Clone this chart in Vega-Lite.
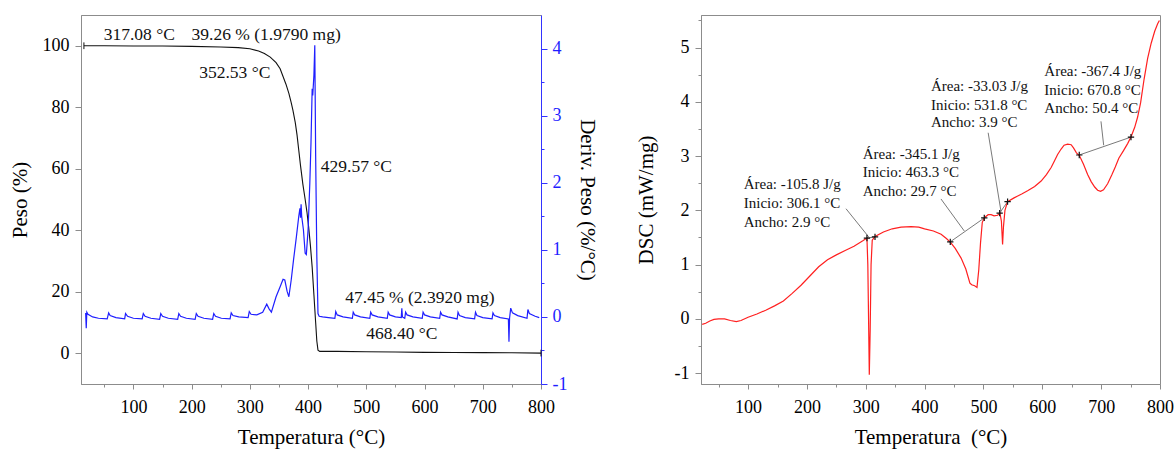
{
  "$schema": "https://vega.github.io/schema/vega-lite/v6.json",
  "padding": {"left": 8, "top": 14, "right": 5, "bottom": 5},
  "background": "white",
  "config": {
    "font": "Liberation Serif",
    "view": {"stroke": "#8c8c8c", "strokeWidth": 1},
    "axis": {
      "labelFont": "Liberation Serif", "titleFont": "Liberation Serif",
      "labelFontSize": 18, "titleFontSize": 21, "titleFontWeight": "normal",
      "labelColor": "#000", "titleColor": "#000",
      "domainColor": "#8c8c8c", "tickColor": "#8c8c8c", "grid": false
    },
    "text": {"font": "Liberation Serif"}
  },
  "spacing": 35,
  "datasets": {
    "peso": [
      {"T": 15, "P": 100}, {"T": 50, "P": 100}, {"T": 100, "P": 99.9}, {"T": 150, "P": 99.9}, {"T": 200, "P": 99.8},
      {"T": 250, "P": 99.6}, {"T": 280, "P": 99.4}, {"T": 300, "P": 99.0}, {"T": 315, "P": 98.3}, {"T": 325, "P": 97.5},
      {"T": 335, "P": 96.3}, {"T": 345, "P": 94.5}, {"T": 352, "P": 92.5}, {"T": 357, "P": 90}, {"T": 362, "P": 87.5},
      {"T": 367, "P": 84.5}, {"T": 371, "P": 81.5}, {"T": 374, "P": 79}, {"T": 378, "P": 75}, {"T": 381, "P": 71},
      {"T": 384, "P": 66}, {"T": 387, "P": 61}, {"T": 391, "P": 55}, {"T": 395, "P": 50}, {"T": 398, "P": 46},
      {"T": 401, "P": 41}, {"T": 404, "P": 35}, {"T": 407, "P": 28}, {"T": 410, "P": 19}, {"T": 413, "P": 10},
      {"T": 415, "P": 4}, {"T": 417, "P": 1}, {"T": 420, "P": 0.6}, {"T": 450, "P": 0.6}, {"T": 500, "P": 0.5},
      {"T": 550, "P": 0.4}, {"T": 600, "P": 0.3}, {"T": 650, "P": 0.25}, {"T": 700, "P": 0.2}, {"T": 750, "P": 0.15},
      {"T": 800, "P": 0.05}
    ],
    "pesoEnds": [
      {"T": 15, "P": 100}, {"T": 800, "P": 0.05}
    ],
    "deriv": [
      {"T": 18, "D": 0.06}, {"T": 19, "D": -0.17}, {"T": 20, "D": 0.07}, {"T": 22, "D": 0.04}, {"T": 30, "D": 0.0},
      {"T": 40, "D": -0.02}, {"T": 55, "D": -0.03}, {"T": 57.5, "D": 0.06}, {"T": 60, "D": 0.02}, {"T": 70, "D": -0.01},
      {"T": 85, "D": -0.03}, {"T": 86.5, "D": 0.05}, {"T": 90, "D": 0.01}, {"T": 100, "D": -0.02}, {"T": 115, "D": -0.03},
      {"T": 117, "D": 0.05}, {"T": 120, "D": 0.01}, {"T": 130, "D": -0.02}, {"T": 145, "D": -0.035}, {"T": 147, "D": 0.05},
      {"T": 150, "D": 0.01}, {"T": 160, "D": -0.02}, {"T": 176, "D": -0.035}, {"T": 178, "D": 0.05}, {"T": 181, "D": 0.01},
      {"T": 191, "D": -0.02}, {"T": 206, "D": -0.035}, {"T": 208, "D": 0.05}, {"T": 211, "D": 0.01}, {"T": 221, "D": -0.02},
      {"T": 236, "D": -0.035}, {"T": 238, "D": 0.05}, {"T": 241, "D": 0.01}, {"T": 251, "D": -0.02}, {"T": 266, "D": -0.03},
      {"T": 268, "D": 0.06}, {"T": 271, "D": 0.02}, {"T": 281, "D": 0.0}, {"T": 297, "D": -0.01}, {"T": 299, "D": 0.08},
      {"T": 302, "D": 0.04}, {"T": 312, "D": 0.03}, {"T": 322, "D": 0.07}, {"T": 329, "D": 0.19}, {"T": 333, "D": 0.12},
      {"T": 337, "D": 0.07}, {"T": 345, "D": 0.3}, {"T": 352, "D": 0.45}, {"T": 357, "D": 0.56}, {"T": 360, "D": 0.55},
      {"T": 364, "D": 0.38}, {"T": 367, "D": 0.3}, {"T": 371, "D": 0.55}, {"T": 375, "D": 0.85}, {"T": 380, "D": 1.2},
      {"T": 384, "D": 1.5}, {"T": 386, "D": 1.62}, {"T": 387, "D": 1.48}, {"T": 388, "D": 1.68}, {"T": 389, "D": 1.5},
      {"T": 392, "D": 1.3}, {"T": 395, "D": 0.95}, {"T": 397, "D": 0.93}, {"T": 400, "D": 1.3}, {"T": 403, "D": 2.0},
      {"T": 405, "D": 2.6}, {"T": 407, "D": 3.4}, {"T": 408, "D": 3.3}, {"T": 410, "D": 3.6}, {"T": 411.5, "D": 4.05},
      {"T": 413, "D": 2.4}, {"T": 415, "D": 0.9}, {"T": 417, "D": 0.05}, {"T": 419, "D": 0.01}, {"T": 425, "D": 0.0},
      {"T": 435, "D": -0.01}, {"T": 446, "D": -0.02}, {"T": 447.5, "D": 0.08}, {"T": 450, "D": 0.03}, {"T": 460, "D": 0.0},
      {"T": 476, "D": -0.02}, {"T": 477.5, "D": 0.07}, {"T": 480, "D": 0.03}, {"T": 490, "D": 0.0}, {"T": 506, "D": -0.02},
      {"T": 507.5, "D": 0.07}, {"T": 510, "D": 0.03}, {"T": 520, "D": 0.0}, {"T": 536, "D": -0.02}, {"T": 537.5, "D": 0.07},
      {"T": 540, "D": 0.03}, {"T": 550, "D": 0.0}, {"T": 560, "D": -0.01}, {"T": 561, "D": 0.13}, {"T": 562, "D": 0.0},
      {"T": 566, "D": -0.02}, {"T": 567.5, "D": 0.07}, {"T": 570, "D": 0.03}, {"T": 580, "D": 0.0}, {"T": 596, "D": -0.02},
      {"T": 597.5, "D": 0.07}, {"T": 600, "D": 0.03}, {"T": 610, "D": 0.0}, {"T": 626, "D": -0.02}, {"T": 627.5, "D": 0.07},
      {"T": 630, "D": 0.03}, {"T": 640, "D": 0.0}, {"T": 656, "D": -0.03}, {"T": 657.5, "D": 0.07}, {"T": 660, "D": 0.02},
      {"T": 670, "D": -0.01}, {"T": 686, "D": -0.03}, {"T": 687.5, "D": 0.07}, {"T": 690, "D": 0.02}, {"T": 700, "D": -0.01},
      {"T": 716, "D": -0.03}, {"T": 717.5, "D": 0.06}, {"T": 720, "D": 0.02}, {"T": 730, "D": -0.01}, {"T": 744, "D": -0.03},
      {"T": 745, "D": -0.37}, {"T": 746, "D": -0.02}, {"T": 748, "D": 0.13}, {"T": 751, "D": 0.06}, {"T": 760, "D": 0.02},
      {"T": 776, "D": -0.02}, {"T": 777.5, "D": 0.11}, {"T": 780, "D": 0.05}, {"T": 790, "D": 0.01}, {"T": 797, "D": -0.01}
    ],
    "tgaText": [
      {"T": 110, "P": 103.5, "label": "317.08 °C"},
      {"T": 328, "P": 103.5, "label": "39.26 % (1.9790 mg)"},
      {"T": 274, "P": 91, "label": "352.53 °C"},
      {"T": 483, "P": 60.5, "label": "429.57 °C"},
      {"T": 592, "P": 18, "label": "47.45 % (2.3920 mg)"},
      {"T": 561, "P": 6.3, "label": "468.40 °C"}
    ],
    "dsc": [
      {"T": 22, "V": -0.1}, {"T": 28, "V": -0.08}, {"T": 35, "V": -0.04}, {"T": 42, "V": -0.01}, {"T": 50, "V": 0.0},
      {"T": 60, "V": 0.0}, {"T": 70, "V": -0.03}, {"T": 80, "V": -0.05}, {"T": 88, "V": -0.03}, {"T": 100, "V": 0.03},
      {"T": 115, "V": 0.09}, {"T": 130, "V": 0.16}, {"T": 145, "V": 0.24}, {"T": 160, "V": 0.33}, {"T": 175, "V": 0.47},
      {"T": 190, "V": 0.62}, {"T": 205, "V": 0.79}, {"T": 220, "V": 0.96}, {"T": 235, "V": 1.09}, {"T": 250, "V": 1.18},
      {"T": 265, "V": 1.26}, {"T": 280, "V": 1.34}, {"T": 295, "V": 1.44}, {"T": 302, "V": 1.49}, {"T": 303.5, "V": 1.0},
      {"T": 305, "V": -0.2}, {"T": 306, "V": -1.03}, {"T": 307.5, "V": -0.2}, {"T": 309, "V": 1.0}, {"T": 311, "V": 1.45},
      {"T": 315.7, "V": 1.52}, {"T": 330, "V": 1.6}, {"T": 345, "V": 1.66}, {"T": 360, "V": 1.69}, {"T": 377, "V": 1.7},
      {"T": 390, "V": 1.69}, {"T": 400, "V": 1.66}, {"T": 415, "V": 1.62}, {"T": 428, "V": 1.56}, {"T": 437, "V": 1.48},
      {"T": 444, "V": 1.41}, {"T": 452, "V": 1.3}, {"T": 462, "V": 1.12}, {"T": 470, "V": 0.92}, {"T": 477, "V": 0.66},
      {"T": 480, "V": 0.63}, {"T": 485, "V": 0.61}, {"T": 489, "V": 0.58}, {"T": 492, "V": 0.9}, {"T": 495, "V": 1.4},
      {"T": 498, "V": 1.78}, {"T": 502, "V": 1.87}, {"T": 508, "V": 1.92}, {"T": 513, "V": 1.92}, {"T": 518, "V": 1.9},
      {"T": 524, "V": 1.91}, {"T": 528, "V": 1.95}, {"T": 530.5, "V": 1.8}, {"T": 532.5, "V": 1.37}, {"T": 534, "V": 1.7},
      {"T": 536.5, "V": 2.0}, {"T": 541, "V": 2.16}, {"T": 552, "V": 2.23}, {"T": 565, "V": 2.3}, {"T": 575, "V": 2.36},
      {"T": 587, "V": 2.44}, {"T": 598, "V": 2.54}, {"T": 607, "V": 2.66}, {"T": 615, "V": 2.79}, {"T": 621, "V": 2.92},
      {"T": 626, "V": 3.03}, {"T": 632, "V": 3.13}, {"T": 637, "V": 3.2}, {"T": 643, "V": 3.22}, {"T": 649, "V": 3.21},
      {"T": 653, "V": 3.15}, {"T": 658, "V": 3.06}, {"T": 663, "V": 3.01}, {"T": 670, "V": 2.85}, {"T": 677, "V": 2.66},
      {"T": 683, "V": 2.53}, {"T": 689, "V": 2.43}, {"T": 694, "V": 2.37}, {"T": 699, "V": 2.35}, {"T": 704, "V": 2.38},
      {"T": 711, "V": 2.49}, {"T": 718, "V": 2.65}, {"T": 724, "V": 2.8}, {"T": 730, "V": 2.96}, {"T": 738, "V": 3.1},
      {"T": 745, "V": 3.23}, {"T": 751, "V": 3.36}, {"T": 757, "V": 3.53}, {"T": 762, "V": 3.72}, {"T": 767, "V": 3.98},
      {"T": 773, "V": 4.42}, {"T": 779, "V": 4.8}, {"T": 785, "V": 5.08}, {"T": 791, "V": 5.3}, {"T": 796, "V": 5.44},
      {"T": 799, "V": 5.5}
    ],
    "dscText": [
      {"T": 92.6, "V": 2.48, "label": "Área: -105.8 J/g"},
      {"T": 92.6, "V": 2.14, "label": "Inicio: 306.1 °C"},
      {"T": 92.6, "V": 1.79, "label": "Ancho: 2.9 °C"},
      {"T": 294.8, "V": 3.03, "label": "Área: -345.1 J/g"},
      {"T": 294.8, "V": 2.71, "label": "Inicio: 463.3 °C"},
      {"T": 294.8, "V": 2.36, "label": "Ancho: 29.7 °C"},
      {"T": 410.8, "V": 4.29, "label": "Área: -33.03 J/g"},
      {"T": 410.8, "V": 3.95, "label": "Inicio: 531.8 °C"},
      {"T": 410.8, "V": 3.62, "label": "Ancho: 3.9 °C"},
      {"T": 603.4, "V": 4.57, "label": "Área: -367.4 J/g"},
      {"T": 603.4, "V": 4.22, "label": "Inicio: 670.8 °C"},
      {"T": 603.4, "V": 3.88, "label": "Ancho: 50.4 °C"}
    ],
    "leaders": [
      {"T": 266.4, "V": 2.03, "T2": 305, "V2": 1.51},
      {"T": 427.8, "V": 2.21, "T2": 467.4, "V2": 1.62},
      {"T": 508, "V": 3.43, "T2": 529.8, "V2": 1.98},
      {"T": 699.7, "V": 3.64, "T2": 704.3, "V2": 3.2},
      {"T": 302, "V": 1.49, "T2": 315.7, "V2": 1.51},
      {"T": 443.6, "V": 1.42, "T2": 501.4, "V2": 1.86},
      {"T": 527.5, "V": 1.95, "T2": 541, "V2": 2.16},
      {"T": 662.8, "V": 3.02, "T2": 750.7, "V2": 3.35}
    ],
    "marks": [
      {"T": 302, "V": 1.49}, {"T": 315.7, "V": 1.51},
      {"T": 443.6, "V": 1.42}, {"T": 501.4, "V": 1.86},
      {"T": 527.5, "V": 1.95}, {"T": 541, "V": 2.16},
      {"T": 662.8, "V": 3.02}, {"T": 750.7, "V": 3.35}
    ]
  },
  "hconcat": [
    {
      "width": 460, "height": 369,
      "encoding": {
        "x": {
          "field": "T", "type": "quantitative",
          "scale": {"domain": [10, 800], "nice": false, "zero": false},
          "axis": {
            "title": "Temperatura (°C)",
            "values": [50, 100, 150, 200, 250, 300, 350, 400, 450, 500, 550, 600, 650, 700, 750, 800],
            "labelExpr": "datum.value % 100 === 0 ? '' + datum.value : ''",
            "tickSize": {"condition": {"test": "datum.value % 100 === 0", "value": 5}, "value": 3},
            "labelPadding": 9, "titlePadding": 10, "labelFlush": false
          }
        }
      },
      "layer": [
        {
          "layer": [
            {
              "data": {"name": "peso"},
              "mark": {"type": "line", "color": "#111111", "strokeWidth": 1.1},
              "encoding": {
                "y": {
                  "field": "P", "type": "quantitative",
                  "scale": {"domain": [-10, 110], "nice": false, "zero": false},
                  "axis": {
                    "title": "Peso (%)",
                    "values": [0, 10, 20, 30, 40, 50, 60, 70, 80, 90, 100],
                    "labelExpr": "datum.value % 20 === 0 ? '' + datum.value : ''",
                    "tickSize": {"condition": {"test": "datum.value % 20 === 0", "value": 6}, "value": 3},
                    "labelPadding": 6, "titlePadding": 12, "labelFlush": false
                  }
                }
              }
            },
            {
              "data": {"name": "pesoEnds"},
              "mark": {"type": "point", "shape": "M 0 -1 L 0 1", "size": 45, "filled": false, "stroke": "#111111", "strokeWidth": 1, "opacity": 1},
              "encoding": {
                "y": {"field": "P", "type": "quantitative"}
              }
            },
            {
              "data": {"name": "tgaText"},
              "mark": {"type": "text", "fontSize": 17.5, "color": "#111111", "align": "center", "baseline": "middle"},
              "encoding": {
                "y": {"field": "P", "type": "quantitative"},
                "text": {"field": "label"}
              }
            }
          ]
        },
        {
          "data": {"name": "deriv"},
          "mark": {"type": "line", "color": "#1f1fff", "strokeWidth": 1.2},
          "encoding": {
            "y": {
              "field": "D", "type": "quantitative",
              "scale": {"domain": [-1, 4.5], "nice": false, "zero": false},
              "axis": {
                "orient": "right",
                "title": "Deriv. Peso (%/°C)",
                "values": [-1, -0.5, 0, 0.5, 1, 1.5, 2, 2.5, 3, 3.5, 4],
                "labelExpr": "datum.value % 1 === 0 ? '' + datum.value : ''",
                "tickSize": {"condition": {"test": "datum.value % 1 === 0", "value": 6}, "value": 3},
                "domainColor": "#3333ff", "tickColor": "#3333ff", "labelColor": "#1f1fff",
                "labelPadding": 5, "titlePadding": 10, "labelFlush": false
              }
            }
          }
        }
      ],
      "resolve": {"scale": {"y": "independent"}, "axis": {"y": "independent"}}
    },
    {
      "width": 459, "height": 369,
      "encoding": {
        "x": {
          "field": "T", "type": "quantitative",
          "scale": {"domain": [20, 800], "nice": false, "zero": false},
          "axis": {
            "title": "Temperatura \u00a0(°C)",
            "values": [50, 100, 150, 200, 250, 300, 350, 400, 450, 500, 550, 600, 650, 700, 750, 800],
            "labelExpr": "datum.value % 100 === 0 ? '' + datum.value : ''",
            "tickSize": {"condition": {"test": "datum.value % 100 === 0", "value": 5}, "value": 3},
            "labelPadding": 9, "titlePadding": 10, "labelFlush": false
          }
        },
        "y": {
          "field": "V", "type": "quantitative",
          "scale": {"domain": [-1.2, 5.6], "nice": false, "zero": false},
          "axis": {
            "title": "DSC (mW/mg)",
            "values": [-1, -0.5, 0, 0.5, 1, 1.5, 2, 2.5, 3, 3.5, 4, 4.5, 5, 5.5],
            "labelExpr": "datum.value % 1 === 0 ? '' + datum.value : ''",
            "tickSize": {"condition": {"test": "datum.value % 1 === 0", "value": 6}, "value": 3},
            "labelPadding": 6, "titlePadding": 18, "labelFlush": false
          }
        }
      },
      "layer": [
        {
          "data": {"name": "leaders"},
          "mark": {"type": "rule", "color": "#7a7a7a", "strokeWidth": 1},
          "encoding": {
            "x2": {"field": "T2"},
            "y2": {"field": "V2"}
          }
        },
        {
          "data": {"name": "dsc"},
          "mark": {"type": "line", "color": "#ff2020", "strokeWidth": 1.2},
          "encoding": {}
        },
        {
          "data": {"name": "marks"},
          "mark": {"type": "point", "shape": "M -1 0 L 1 0 M 0 -1 L 0 1", "size": 40, "filled": false, "stroke": "#111111", "strokeWidth": 1.2, "opacity": 1},
          "encoding": {}
        },
        {
          "data": {"name": "dscText"},
          "mark": {"type": "text", "fontSize": 15, "color": "#111111", "align": "left", "baseline": "middle"},
          "encoding": {"text": {"field": "label"}}
        }
      ]
    }
  ]
}
